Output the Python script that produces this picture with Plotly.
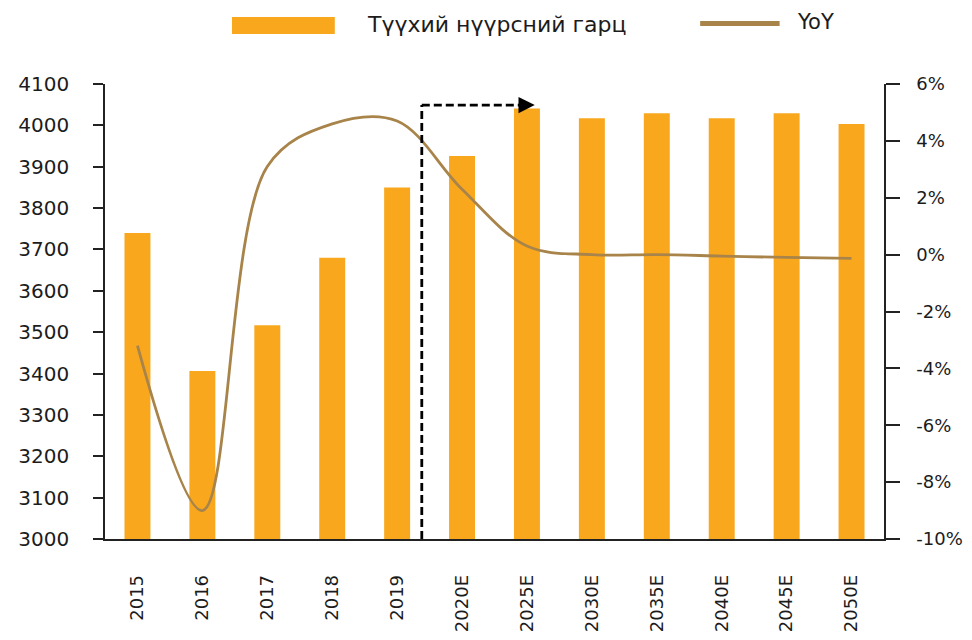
import plotly.graph_objects as go

categories = ["2015", "2016", "2017", "2018", "2019", "2020E", "2025E",
              "2030E", "2035E", "2040E", "2045E", "2050E"]
production = [3740, 3406, 3517, 3680, 3850, 3926, 4041, 4017, 4029, 4017, 4029, 4003]
yoy_pct = [-3.2, -9.0, 3.1, 4.6, 4.7, 2.3, 0.3, 0.0, 0.0, -0.05, -0.1, -0.13]

left_ticks = [3000, 3100, 3200, 3300, 3400, 3500, 3600, 3700, 3800, 3900, 4000, 4100]
right_ticks = [-10, -8, -6, -4, -2, 0, 2, 4, 6]
right_tick_labels = ["-10%", "-8%", "-6%", "-4%", "-2%", "0%", "2%", "4%", "6%"]

bar_name = "Түүхий нүүрсний гарц"
line_name = "YoY"

BAR_COLOR = "#F9A81E"
LINE_COLOR = "#A8844A"
TXT = "#1c1c1c"
FONT = "DejaVu Sans"

fig = go.Figure()
fig.add_trace(go.Bar(x=categories, y=production, name=bar_name,
                     marker=dict(color=BAR_COLOR, line=dict(width=0)),
                     showlegend=False, yaxis="y"))
fig.add_trace(go.Scatter(x=categories, y=yoy_pct, name=line_name, mode="lines",
                         line=dict(color=LINE_COLOR, width=2.8, shape="spline", smoothing=1.0),
                         showlegend=False, yaxis="y2"))

# dashed forecast arrow (category index positions / data values)
split_pos = 4.38
arrow_end = 6.12
arrow_level = 4049
fig.add_shape(type="line", xref="x", yref="y", x0=split_pos, x1=split_pos, y0=3000, y1=arrow_level,
              line=dict(color="black", width=2.8, dash="8px,4px"))
fig.add_shape(type="line", xref="x", yref="y", x0=split_pos, x1=arrow_end - 0.15, y0=arrow_level, y1=arrow_level,
              line=dict(color="black", width=2.8, dash="8px,4px"))
fig.add_annotation(x=arrow_end, y=arrow_level, xref="x", yref="y", text="", showarrow=True,
                   arrowhead=2, arrowsize=1.3, arrowwidth=2.5, arrowcolor="black",
                   ax=-16, ay=0, standoff=0)

# custom legend
fig.add_shape(type="rect", xref="paper", yref="paper", x0=0.163, x1=0.295, y0=1.110, y1=1.147,
              fillcolor=BAR_COLOR, line=dict(width=0))
fig.add_annotation(xref="paper", yref="paper", x=0.334, y=1.130, text=bar_name, showarrow=False,
                   xanchor="left", yanchor="middle", font=dict(family=FONT, size=22, color=TXT))
fig.add_shape(type="line", xref="paper", yref="paper", x0=0.764, x1=0.866, y0=1.133, y1=1.133,
              line=dict(color=LINE_COLOR, width=5))
fig.add_annotation(xref="paper", yref="paper", x=0.886, y=1.137, text=line_name, showarrow=False,
                   xanchor="left", yanchor="middle", font=dict(family=FONT, size=21, color=TXT))

# the page body adds an 8px offset, so the figure is sized to fit the window
fig.update_layout(
    width=956, height=624,
    margin=dict(l=97, r=80, t=76, b=93),
    paper_bgcolor="white", plot_bgcolor="white",
    bargap=0.6,
    font=dict(family=FONT, size=19, color=TXT),
    xaxis=dict(type="category", showline=True, linecolor="#222", linewidth=1.5,
               ticks="", tickangle=-90, tickfont=dict(family=FONT, size=18, color=TXT),
               ticklabelstandoff=27, showgrid=False, zeroline=False, automargin=False),
    yaxis=dict(range=[3000, 4100], tickvals=left_ticks, showline=True, linecolor="#222", linewidth=1.5,
               ticks="outside", ticklen=10, tickwidth=1.5, tickcolor="#222",
               tickfont=dict(family=FONT, size=20, color=TXT), ticklabelstandoff=20,
               showgrid=False, zeroline=False, automargin=False),
    yaxis2=dict(range=[-10, 6], tickvals=right_ticks, ticktext=right_tick_labels,
                overlaying="y", side="right",
                showline=True, linecolor="#222", linewidth=1.5,
                ticks="outside", ticklen=14, tickwidth=1.5, tickcolor="#222",
                tickfont=dict(family=FONT, size=18, color=TXT), ticklabelstandoff=13,
                showgrid=False, zeroline=False, automargin=False),
)

fig.write_html("out.html")
